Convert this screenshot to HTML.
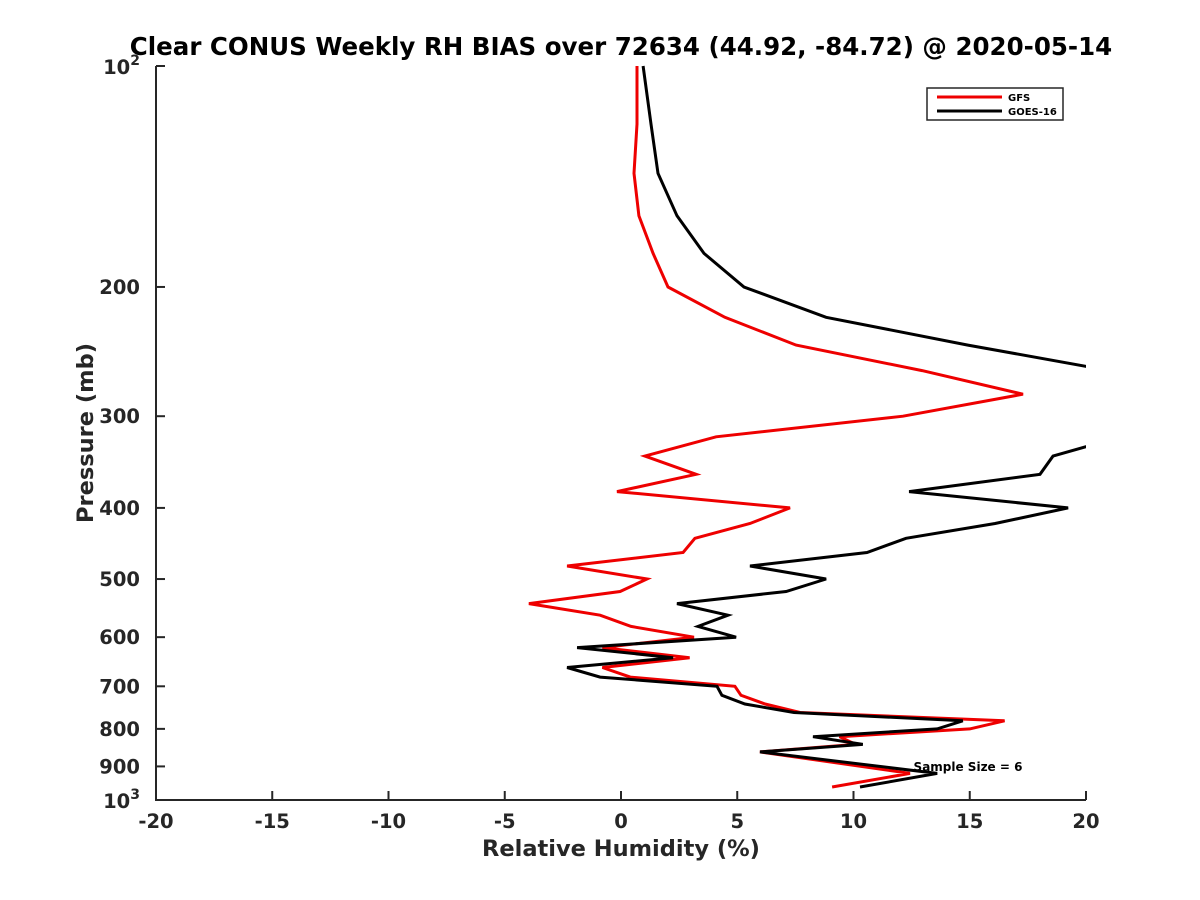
<!DOCTYPE html>
<html><head><meta charset="utf-8"><style>
body{margin:0;background:#fff;}
svg{display:block;font-family:"DejaVu Sans","Liberation Sans",sans-serif;font-weight:bold;}
</style></head><body>
<svg id="chart" width="1200" height="900" viewBox="0 0 1200 900">
<rect width="1200" height="900" fill="#fff"/>
<defs><clipPath id="plotclip"><rect x="156" y="60" width="930" height="745"/></clipPath></defs>
<text x="621" y="55" font-size="24.5" text-anchor="middle" fill="#000">Clear CONUS Weekly RH BIAS over 72634 (44.92, -84.72) @ 2020-05-14</text>
<g id="axes"></g>
<g id="series" clip-path="url(#plotclip)"></g>
<text x="968" y="771" font-size="12" text-anchor="middle" fill="#000">Sample Size = 6</text>
<text x="621" y="856" font-size="22.5" text-anchor="middle" fill="#262626">Relative Humidity (%)</text>
<text transform="translate(93,433) rotate(-90)" font-size="22.5" text-anchor="middle" fill="#262626">Pressure (mb)</text>
<g>
<rect x="927" y="88" width="136" height="32" fill="#fff" stroke="#262626" stroke-width="1.5"/>
<line x1="937" y1="97" x2="1002" y2="97" stroke="#e00" stroke-width="3"/>
<text x="1008" y="101" font-size="10" fill="#000">GFS</text>
<line x1="937" y1="111" x2="1002" y2="111" stroke="#000" stroke-width="3"/>
<text x="1008" y="115" font-size="10" fill="#000">GOES-16</text>
</g>
</svg>
<script>
const gfsPressure=[100,120,140,160,180,200,220,240,260,280,300,320,340,360,380,400,420,440,460,480,500,520,540,560,580,600,620,640,660,680,700,720,740,760,780,800,820,840,860,920,960];
const gfsValues=[0.69,0.69,0.56,0.77,1.38,2.02,4.47,7.53,12.95,17.29,12.13,4.09,1.03,3.23,-0.17,7.27,5.55,3.18,2.67,-2.32,1.12,-0.04,-3.96,-0.90,0.43,3.14,-0.8,2.95,-0.8,0.4,4.9,5.16,6.2,7.7,16.5,15.0,9.4,10.1,5.98,12.43,9.08];
const goesPressure=[100,120,140,160,180,200,220,240,260,280,300,320,340,360,380,400,420,440,460,480,500,520,540,560,580,600,620,640,660,680,700,720,740,760,780,800,820,840,860,920,960];
const goesValues=[0.95,1.29,1.59,2.41,3.57,5.29,8.82,14.92,21,26,25,21.5,18.58,18.02,12.39,19.23,16.09,12.26,10.58,5.55,8.82,7.10,2.41,4.60,3.31,4.95,-1.89,2.24,-2.32,-0.90,4.13,4.34,5.33,7.44,14.7,13.6,8.26,10.4,5.98,13.6,10.28];
const xTicks=[-20,-15,-10,-5,0,5,10,15,20];
const yTicks=[200,300,400,500,600,700,800,900];

const NS="http://www.w3.org/2000/svg";
const X0=156,X1=1086,Y0=66,Y1=800;
const xs=v=>X0+(v+20)/40*(X1-X0);
const ys=p=>Y0+(Math.log10(p)-2)*(Y1-Y0);
function mk(tag,attrs,parent){const e=document.createElementNS(NS,tag);for(const k in attrs)e.setAttribute(k,attrs[k]);parent.appendChild(e);return e;}
const axes=document.getElementById('axes');
const ax=mk('path',{d:`M${X0},${Y0} L${X0},${Y1} L${X1},${Y1}`,fill:'none',stroke:'#262626','stroke-width':2},axes);


xTicks.forEach(t=>{
  const x=xs(t);
  const l=mk('line',{x1:x,y1:Y1,x2:x,y2:Y1-9,stroke:'#262626','stroke-width':2},axes);
  
  
  const tx=mk('text',{x:x,y:Y1+28,'font-size':19.5,'text-anchor':'middle',fill:'#262626'},axes);
  tx.textContent=String(t);
  
  
});
[100,1000].concat(yTicks).forEach(p=>{
  const y=ys(p);
  const l=mk('line',{x1:X0,y1:y,x2:X0+9,y2:y,stroke:'#262626','stroke-width':2},axes);
  
  
});
yTicks.forEach(p=>{
  const tx=mk('text',{x:X0-16,y:ys(p)+7,'font-size':19.5,'text-anchor':'end',fill:'#262626'},axes);
  tx.textContent=String(p);
  
  
});
[[100,'2'],[1000,'3']].forEach(([p,e])=>{
  const tx=mk('text',{x:X0-16,y:ys(p)+8,'font-size':19.5,'text-anchor':'end',fill:'#262626'},axes);
  tx.innerHTML='10<tspan dy="-9" font-size="14">'+e+'</tspan>';
  
  
});
const ser=document.getElementById('series');
function line(P,V,color,name){
  const d=P.map((p,i)=>(i?'L':'M')+xs(V[i]).toFixed(1)+','+ys(p).toFixed(1)).join(' ');
  const e=mk('path',{d:d,fill:'none',stroke:color,'stroke-width':3,'stroke-linejoin':'miter'},ser);
  
  
}
line(gfsPressure,gfsValues,'#e00','gfs-line');
line(goesPressure,goesValues,'#000','goes16-line');
</script>
</body></html>
